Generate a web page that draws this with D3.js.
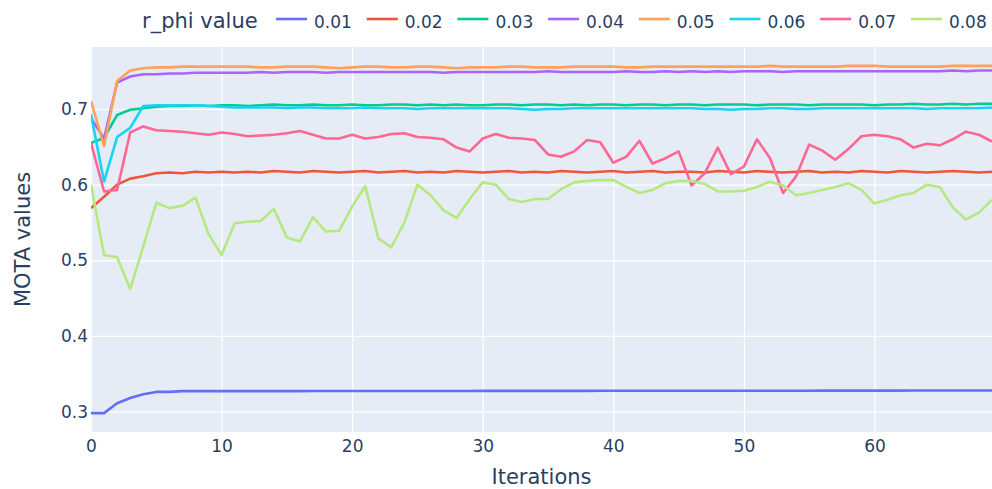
<!DOCTYPE html>
<html>
<head>
<meta charset="utf-8">
<script src="https://cdn.jsdelivr.net/npm/d3@7"></script>
<style>
  body { margin: 0; background: #fff; }
  svg { display: block; font-family: Verdana, "DejaVu Sans", sans-serif; }
</style>
</head>
<body>
<svg id="chart" width="992" height="489"></svg>
<script>
// values, one array per r_phi value (iterations 0..69)
var rphi = ["0.01", "0.02", "0.03", "0.04", "0.05", "0.06", "0.07", "0.08"];
var colors = ["#636efa", "#EF553B", "#00cc96", "#ab63fa", "#FFA15A", "#19d3f3", "#FF6692", "#B6E880"];

var mota001 = [0.298,0.298,0.311,0.318,0.323,0.326,0.326,0.327,0.327,0.327,
  0.327,0.327,0.327,0.327,0.327,0.327,0.327,0.3272,0.3272,0.3272,
  0.3272,0.3273,0.3273,0.3273,0.3273,0.3273,0.3273,0.3273,0.3273,0.3273,
  0.3274,0.3274,0.3274,0.3274,0.3274,0.3274,0.3274,0.3274,0.3274,0.3275,
  0.3275,0.3275,0.3275,0.3275,0.3275,0.3275,0.3275,0.3275,0.3276,0.3276,
  0.3276,0.3276,0.3276,0.3276,0.3276,0.3276,0.3277,0.3277,0.3277,0.3277,
  0.3277,0.3277,0.3277,0.3278,0.3278,0.3278,0.3278,0.3278,0.3278,0.3278];
var mota002 = [0.569,0.584,0.600,0.608,0.611,0.615,0.616,0.615,0.617,0.616,
  0.617,0.616,0.617,0.616,0.618,0.617,0.616,0.618,0.617,0.616,
  0.617,0.618,0.616,0.617,0.618,0.616,0.617,0.616,0.618,0.617,
  0.616,0.617,0.618,0.616,0.617,0.616,0.618,0.617,0.616,0.617,
  0.618,0.616,0.617,0.618,0.616,0.617,0.617,0.616,0.618,0.617,
  0.616,0.618,0.617,0.616,0.617,0.618,0.616,0.617,0.616,0.618,
  0.617,0.616,0.618,0.617,0.616,0.617,0.618,0.617,0.616,0.617];
var mota003 = [0.655,0.662,0.692,0.699,0.701,0.703,0.704,0.704,0.705,0.704,
  0.705,0.705,0.704,0.705,0.706,0.705,0.705,0.706,0.705,0.705,
  0.706,0.705,0.705,0.706,0.706,0.705,0.706,0.705,0.706,0.705,
  0.705,0.706,0.706,0.705,0.706,0.706,0.705,0.706,0.705,0.706,
  0.706,0.705,0.706,0.706,0.705,0.706,0.706,0.705,0.706,0.706,
  0.706,0.705,0.706,0.706,0.706,0.705,0.706,0.706,0.706,0.706,
  0.705,0.706,0.706,0.707,0.706,0.706,0.707,0.706,0.707,0.707];
var mota004 = [0.688,0.661,0.735,0.743,0.746,0.746,0.747,0.747,0.748,0.748,
  0.748,0.748,0.748,0.749,0.748,0.749,0.749,0.749,0.748,0.749,
  0.749,0.749,0.749,0.749,0.749,0.749,0.749,0.748,0.749,0.749,
  0.749,0.749,0.749,0.749,0.749,0.750,0.749,0.749,0.749,0.749,
  0.749,0.750,0.749,0.749,0.750,0.749,0.750,0.749,0.750,0.749,
  0.750,0.750,0.750,0.749,0.750,0.750,0.750,0.750,0.750,0.750,
  0.750,0.750,0.750,0.750,0.750,0.750,0.751,0.750,0.751,0.751];
var mota005 = [0.7105,0.651,0.737,0.751,0.754,0.755,0.755,0.756,0.756,0.756,
  0.756,0.756,0.756,0.755,0.755,0.756,0.756,0.756,0.755,0.754,
  0.755,0.756,0.756,0.755,0.755,0.756,0.756,0.755,0.754,0.755,
  0.755,0.755,0.756,0.756,0.755,0.755,0.755,0.756,0.756,0.756,
  0.756,0.755,0.755,0.756,0.756,0.756,0.756,0.756,0.756,0.756,
  0.756,0.756,0.757,0.756,0.756,0.756,0.756,0.756,0.757,0.757,
  0.757,0.756,0.756,0.756,0.756,0.756,0.757,0.757,0.757,0.757];
var mota006 = [0.693,0.604,0.663,0.675,0.704,0.705,0.705,0.705,0.705,0.704,
  0.703,0.702,0.702,0.702,0.702,0.701,0.702,0.702,0.701,0.701,
  0.701,0.702,0.701,0.701,0.701,0.700,0.701,0.701,0.701,0.701,
  0.701,0.701,0.701,0.700,0.699,0.700,0.700,0.701,0.701,0.701,
  0.701,0.701,0.701,0.701,0.701,0.701,0.701,0.700,0.700,0.699,
  0.700,0.700,0.701,0.701,0.700,0.700,0.701,0.701,0.701,0.701,
  0.701,0.701,0.701,0.701,0.700,0.701,0.701,0.701,0.701,0.702];
var mota007 = [0.655,0.591,0.593,0.669,0.677,0.672,0.671,0.670,0.668,0.666,
  0.669,0.667,0.664,0.665,0.666,0.668,0.671,0.666,0.661,0.661,
  0.666,0.661,0.663,0.667,0.668,0.663,0.662,0.660,0.649,0.644,
  0.661,0.667,0.662,0.661,0.659,0.640,0.637,0.644,0.659,0.656,
  0.629,0.637,0.658,0.628,0.635,0.644,0.599,0.615,0.649,0.614,
  0.624,0.660,0.635,0.589,0.611,0.653,0.645,0.633,0.647,0.664,
  0.666,0.664,0.660,0.649,0.654,0.652,0.660,0.670,0.666,0.657];
var mota008 = [0.600,0.507,0.504,0.462,0.518,0.576,0.569,0.572,0.583,0.535,
  0.507,0.549,0.551,0.552,0.568,0.530,0.525,0.557,0.538,0.539,
  0.571,0.598,0.529,0.517,0.550,0.600,0.586,0.566,0.556,0.581,
  0.603,0.600,0.581,0.577,0.581,0.581,0.594,0.603,0.605,0.606,
  0.606,0.597,0.589,0.593,0.602,0.605,0.605,0.601,0.591,0.591,
  0.592,0.597,0.604,0.599,0.586,0.589,0.593,0.597,0.602,0.593,
  0.575,0.580,0.586,0.589,0.600,0.597,0.570,0.554,0.563,0.580];

var xTicks = [0, 10, 20, 30, 40, 50, 60];
var yTicks = [0.3, 0.4, 0.5, 0.6, 0.7];

var series = [mota001, mota002, mota003, mota004, mota005, mota006, mota007, mota008];

var svg = d3.select("#chart");
var margin = { top: 47, right: 0, bottom: 57, left: 91 };
var width = 992 - margin.left - margin.right;
var height = 489 - margin.top - margin.bottom;
var ink = "#2a3f5f";

var x = d3.scaleLinear().domain([0, 69]).range([0, width]);
var y = d3.scaleLinear().domain([0.273, 0.782]).range([height, 0]);

var g = svg.append("g")
           .attr("transform", "translate(" + margin.left + "," + margin.top + ")");

g.append("rect")
 .attr("width", width)
 .attr("height", height)
 .attr("fill", "#e5ecf6");

// grid lines
g.append("g")
 .call(d3.axisBottom(x).tickValues(xTicks).tickSize(height).tickFormat(""))
 .call(function(a) { a.select(".domain").remove(); })
 .selectAll("line").attr("stroke", "#fff").attr("stroke-width", 1.2);
g.append("g")
 .call(d3.axisLeft(y).tickValues(yTicks).tickSize(-width).tickFormat(""))
 .call(function(a) { a.select(".domain").remove(); })
 .selectAll("line").attr("stroke", "#fff").attr("stroke-width", 1.2);

// tick labels
var xAxis = g.append("g")
             .attr("transform", "translate(0," + height + ")")
             .call(d3.axisBottom(x).tickValues(xTicks).tickSize(0).tickPadding(8));
xAxis.select(".domain").remove();
xAxis.selectAll("text").attr("fill", ink).style("font-size", "17px")
     .style("font-family", "Verdana, 'DejaVu Sans', sans-serif");

var yAxis = g.append("g")
             .call(d3.axisLeft(y).tickValues(yTicks).tickSize(0).tickPadding(3)
                    .tickFormat(d3.format(".1f")));
yAxis.select(".domain").remove();
yAxis.selectAll("text").attr("fill", ink).style("font-size", "17px")
     .style("font-family", "Verdana, 'DejaVu Sans', sans-serif");

// lines
svg.append("clipPath").attr("id", "plot-clip")
   .append("rect").attr("width", width).attr("height", height);

var line = d3.line()
             .x(function(d, i) { return x(i); })
             .y(function(d) { return y(d); });

var lines = g.append("g").attr("clip-path", "url(#plot-clip)");
series.forEach(function(s, k) {
  lines.append("path")
       .datum(s)
       .attr("fill", "none")
       .attr("stroke", colors[k])
       .attr("stroke-width", 2.6)
       .attr("stroke-linejoin", "round")
       .attr("d", line);
});

// axis titles
svg.append("text")
   .attr("x", margin.left + width / 2)
   .attr("y", 484)
   .attr("text-anchor", "middle")
   .attr("fill", ink)
   .style("font-size", "21px")
   .text("Iterations");

svg.append("text")
   .attr("transform", "translate(30," + (margin.top + height / 2) + ") rotate(-90)")
   .attr("text-anchor", "middle")
   .attr("fill", ink)
   .style("font-size", "21px")
   .text("MOTA values");

// legend
var legend = svg.append("g").attr("class", "legend");
legend.append("text")
      .attr("x", 142)
      .attr("y", 28)
      .attr("fill", ink)
      .style("font-size", "21px")
      .text("r_phi value");

rphi.forEach(function(name, k) {
  var lx = 276 + k * 90.7;
  legend.append("line")
        .attr("x1", lx).attr("x2", lx + 31)
        .attr("y1", 19).attr("y2", 19)
        .attr("stroke", colors[k])
        .attr("stroke-width", 2.6);
  legend.append("text")
        .attr("x", lx + 38)
        .attr("y", 27.5)
        .attr("fill", ink)
        .style("font-size", "17px")
        .text(name);
});
</script>
</body>
</html>
